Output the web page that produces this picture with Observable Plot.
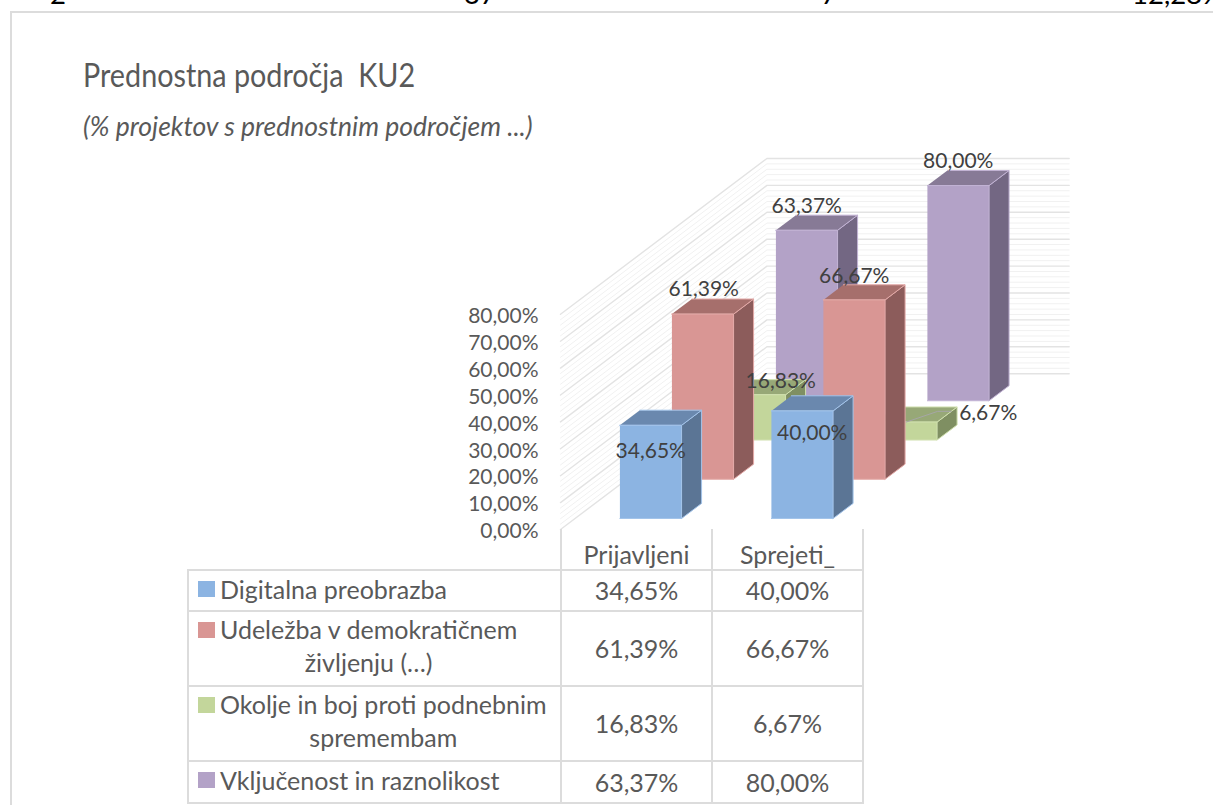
<!DOCTYPE html>
<html><head><meta charset="utf-8">
<script src="https://cdn.jsdelivr.net/npm/d3@7"></script>
<script src="https://cdn.jsdelivr.net/npm/@observablehq/plot@0.6"></script>
<style>
html,body{margin:0;padding:0;background:#fff;overflow:hidden}
body{width:1213px;height:805px;position:relative;font-family:Lato,sans-serif;color:#595959}
#strip span{position:absolute;top:-21px;font-size:27.5px;color:#000;line-height:30px}
#frame{position:absolute;left:10px;top:11px;width:1210px;height:800px;border:2px solid #dcdcdc;box-sizing:border-box}
#title{position:absolute;left:83px;top:52px;font-size:33px;line-height:44px;white-space:pre;transform:scaleX(.871);transform-origin:left center}
#subtitle{position:absolute;left:83px;top:111px;font-size:26.5px;line-height:30px;font-style:italic;white-space:pre}
#chart{position:absolute;left:0;top:145px}
#chart svg{overflow:visible;background:transparent}
table{position:absolute;left:187px;top:529px;border-collapse:collapse;table-layout:fixed;width:675px;font-size:25px;color:#595959}
td{border:2px solid #dcdcdc;text-align:center;padding:0;line-height:33px}
td.blank{border:0;border-bottom:2px solid #dcdcdc}
td.name{position:relative;padding-left:31px;padding-right:0;box-sizing:border-box;text-align:left}
td.name div{display:inline-block;text-align:center;white-space:pre-line;vertical-align:middle;position:relative;top:-3px}
td.name i{position:absolute;left:9px;top:10px;width:17px;height:16px}
td.hd{border-top:0;vertical-align:bottom;line-height:29px}
</style></head><body>
<div id="strip"></div>
<div id="frame"></div>
<div id="title"></div>
<div id="subtitle"></div>
<div id="chart"></div>
<table id="tbl"></table>
<script>
const titleText = "Prednostna področja  KU2";
const subtitleText = "(% projektov s prednostnim področjem ...)";
const categories = ["Prijavljeni", "Sprejeti_"];
const seriesNames = ["Digitalna preobrazba", "Udeležba v demokratičnem\nživljenju (…)", "Okolje in boj proti podnebnim\nspremembam", "Vključenost in raznolikost"];
const digitalna = [34.65, 40.00];
const udelezba = [61.39, 66.67];
const okolje = [16.83, 6.67];
const vkljucenost = [63.37, 80.00];
const seriesValues = [digitalna, udelezba, okolje, vkljucenost];
const yTicks = [0, 10, 20, 30, 40, 50, 60, 70, 80];
const gridLevels = d3.range(0, 81, 2);
const stripTexts = ["2", "37", "7", "12,28%"];
const stripLefts = [50, 464, 821, 1132];

const palette = [
  {front:"#8cb4e2", top:"#6a88ae", side:"#5b7595", edge:"#a3c4ea"},
  {front:"#d99694", top:"#a66f6c", side:"#8c5c5b", edge:"#e3a9a7"},
  {front:"#c3d69b", top:"#97a877", side:"#7f8f62", edge:"#d0e0ae"},
  {front:"#b3a2c7", top:"#877a96", side:"#736783", edge:"#c2b3d4"}
];
// oblique projection of (category, depth, value) into the plot's x / y units
const pxPerCat = 151.5, pxPerPct = 2.69, depthDx = 52, depthDy = 39.25;
const PX = (u, d) => u + d * depthDx / pxPerCat;
const PY = (v, d) => v + d * depthDy / pxPerPct;
const barW = 0.407, barU0 = 0.296, barD0 = 0.28, barDepth = 0.385, wallDepth = 3.97;
const fmt = v => v.toFixed(2).replace(".", ",") + "%";

const faces = [];
for (let s = 3; s >= 0; s--) for (let c = 0; c < 2; c++) {
  const v = seriesValues[s][c], p = palette[s];
  const u0 = c + barU0, u1 = u0 + barW, d0 = s + barD0, d1 = d0 + barDepth;
  const add = (name, fill, pts) => pts.forEach(([u, d, val]) =>
    faces.push({id: `${s}-${c}-${name}`, x: PX(u, d), y: PY(val, d), fill, edge: p.edge}));
  add("side", p.side, [[u1,d0,0],[u1,d1,0],[u1,d1,v],[u1,d0,v]]);
  add("top", p.top, [[u0,d0,v],[u1,d0,v],[u1,d1,v],[u0,d1,v]]);
  add("front", p.front, [[u0,d0,0],[u1,d0,0],[u1,d0,v],[u0,d0,v]]);
}
const grid = [];
gridLevels.forEach(v => {
  const major = v % 10 === 0;
  [[0,0],[0,wallDepth],[1.995,wallDepth]].forEach(([u,d]) =>
    grid.push({id: v, major, x: PX(u,d), y: PY(v,d)}));
});
// label offsets from the top-front-centre of each bar, [series][category]
const labelOffsets = [
  [[0,26],[10,22]],
  [[1,-25],[0,-24]],
  [[26,-13],[82,-9]],
  [[0,-24],[0,-24]]
];
const labelMarks = [];
seriesValues.forEach((vals, s) => vals.forEach((v, c) => {
  const u = c + barU0 + barW / 2, d = s + barD0;
  labelMarks.push(Plot.text([{x: PX(u,d), y: PY(v,d), t: fmt(v)}], {
    x:"x", y:"y", text:"t", dx: labelOffsets[s][c][0], dy: labelOffsets[s][c][1],
    fontSize: 21, fill:"#404040", fontFamily:"Lato,sans-serif"
  }));
}));
// leader line of the small 6,67% label
const lf = (f, g) => { const u = 1 + barU0 + barW*f, d = 2 + barD0 + barDepth*g;
  return {x: PX(u,d), y: PY(okolje[1], d)}; };
const leader = [lf(0.5,0), lf(0.78,0.71), lf(1,0.71)];

const H = 400, top0 = 384;
const plot = Plot.plot({
  width: 1213, height: H, margin: 0,
  x: {type:"linear", domain:[-560/pxPerCat, (1213-560)/pxPerCat], range:[0,1213], axis:null},
  y: {type:"linear", domain:[(top0-H)/pxPerPct, top0/pxPerPct], range:[H,0], axis:null},
  marks: [
    Plot.line(grid.filter(d=>!d.major), {x:"x", y:"y", z:"id", stroke:"#f1f1f1", strokeWidth:1}),
    Plot.line(grid.filter(d=>d.major), {x:"x", y:"y", z:"id", stroke:"#e3e3e3", strokeWidth:1.4}),
    Plot.line(faces, {x:"x", y:"y", z:"id", fill:d=>d.fill, stroke:d=>d.edge, strokeWidth:1, strokeLinejoin:"round"}),
    Plot.line(leader, {x:"x", y:"y", stroke:"#a6a6a6", strokeWidth:1}),
    ...labelMarks,
    Plot.text(yTicks, {x:()=>0, y:d=>d, text:fmt, textAnchor:"end", dx:-22, dy:2,
      fontSize:21, fill:"#595959", fontFamily:"Lato,sans-serif"})
  ]
});
document.getElementById("chart").appendChild(plot);

document.getElementById("title").textContent = titleText;
document.getElementById("subtitle").textContent = subtitleText;
const strip = document.getElementById("strip");
stripTexts.forEach((t,i)=>{const e=document.createElement("span");e.textContent=t;e.style.left=stripLefts[i]+"px";strip.appendChild(e);});

const tbl = document.getElementById("tbl");
const rowHeights = [41, 41, 75, 75, 42];
const cg = document.createElement("colgroup");
[373,151,151].forEach(w=>{const k=document.createElement("col");k.style.width=w+"px";cg.appendChild(k);});
tbl.appendChild(cg);
const head = tbl.insertRow(); head.style.height = rowHeights[0]+"px";
const blank = head.insertCell(); blank.className="blank";
categories.forEach(c=>{const td=head.insertCell(); td.textContent=c; td.className="hd";});
seriesNames.forEach((n,s)=>{
  const r = tbl.insertRow(); r.style.height = rowHeights[s+1]+"px";
  const td = r.insertCell(); td.className="name";
  const sw = document.createElement("i"); sw.style.background = palette[s].front; td.appendChild(sw);
  const txt = document.createElement("div"); txt.textContent = n; td.appendChild(txt);
  categories.forEach((_,c)=>{const v=r.insertCell(); v.textContent=fmt(seriesValues[s][c]);});
});
</script></body></html>
